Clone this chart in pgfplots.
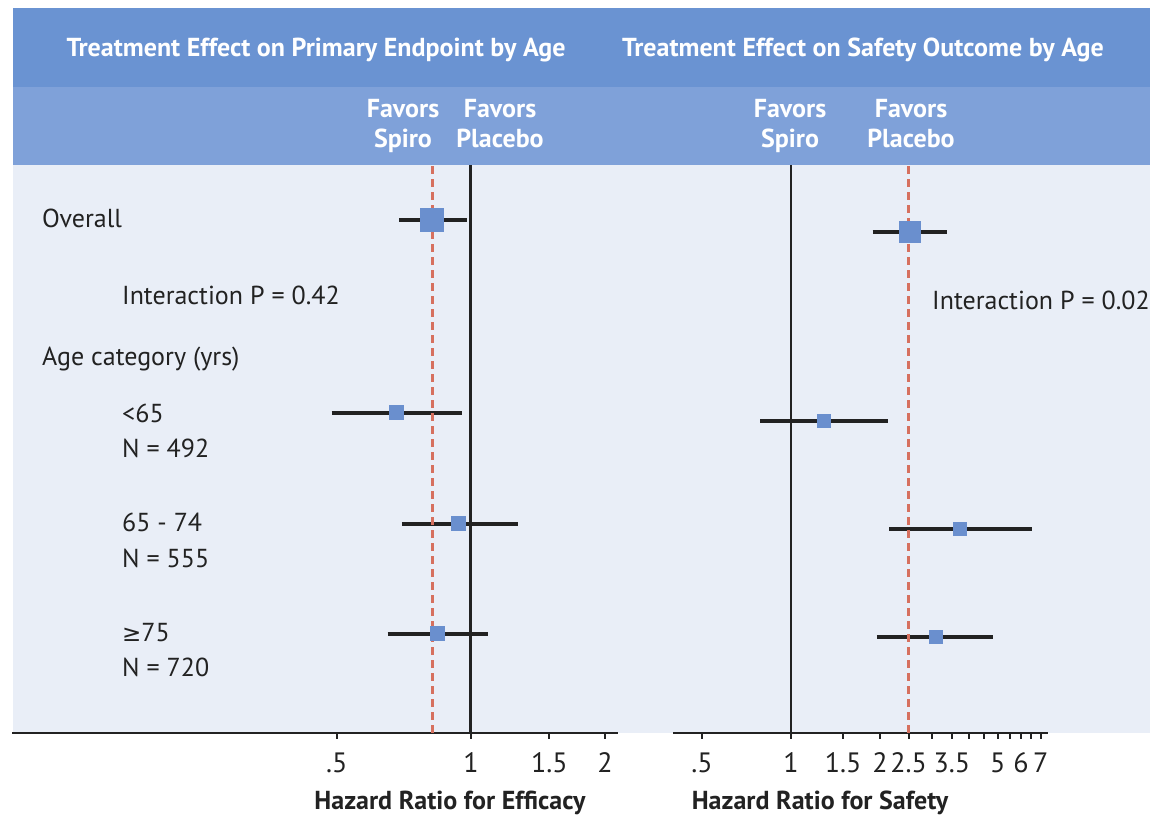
\documentclass[border=0pt]{standalone}
\usepackage{pgfplots}
\pgfplotsset{compat=1.18}
\usepackage{fontspec}
\setmainfont{PT Sans}
\newfontfamily\symfont{DejaVu Sans}

\definecolor{bandtop}{HTML}{6A93D2}
\definecolor{bandsub}{HTML}{7FA1D9}
\definecolor{panel}{HTML}{E9EEF7}
\definecolor{boxblue}{HTML}{6A8FCE}
\definecolor{refred}{HTML}{D6705F}
\definecolor{ink}{HTML}{222222}

\newcommand{\rowfont}{\fontsize{26}{30}\selectfont}
\newcommand{\headfont}{\fontsize{26}{30}\selectfont\bfseries}

\pgfplotsset{
  hrscale/.style={
    x coord trafo/.code={\pgfmathparse{ln(##1)}},
    x coord inv trafo/.code={\pgfmathparse{exp(##1)}},
  },
}
\tikzset{
  ci/.style={ink, line width=3.4pt},
  nullline/.style={ink, line width=2.8pt},
  refline/.style={refred, line width=2.8pt, dash pattern=on 8pt off 5pt},
}

\begin{document}
\begin{tikzpicture}
\begin{scope}[x=1pt, y=1pt]
% page and panel backgrounds
\fill[white] (0,0) rectangle (1150,818);
\fill[panel] (13,85) rectangle (1150,653);
\fill[bandsub] (13,653) rectangle (1150,731);
\fill[bandtop] (13,731) rectangle (1150,810);

% panel titles
\node[font=\fontsize{26}{30}\selectfont\bfseries, text=white, anchor=base] at (316,761) {Treatment Effect on Primary Endpoint by Age};
\node[font=\fontsize{26}{30}\selectfont\bfseries, text=white, anchor=base] at (863,761) {Treatment Effect on Safety Outcome by Age};

% direction headers
\node[font=\headfont, text=white, anchor=base] at (403,700) {Favors};
\node[font=\headfont, text=white, anchor=base] at (403,670) {Spiro};
\node[font=\headfont, text=white, anchor=base] at (500,700) {Favors};
\node[font=\headfont, text=white, anchor=base] at (500,670) {Placebo};
\node[font=\headfont, text=white, anchor=base] at (790,700) {Favors};
\node[font=\headfont, text=white, anchor=base] at (790,670) {Spiro};
\node[font=\headfont, text=white, anchor=base] at (911,700) {Favors};
\node[font=\headfont, text=white, anchor=base] at (911,670) {Placebo};

% row labels
\begin{scope}[every node/.style={font=\rowfont, text=ink, anchor=base west, inner sep=0pt}]
\node at (42,590) {Overall};
\node at (122,513) {Interaction P = 0.42};
\node at (42,452) {Age category (yrs)};
\node at (122,395) {<65};
\node at (122,360) {N = 492};
\node at (122,286) {65 - 74};
\node at (122,250) {N = 555};
\node at (122,176) {{\symfont\fontsize{23}{30}\selectfont ≥}75};
\node at (122,141) {N = 720};
\node at (932,508) {Interaction P = 0.02};
\end{scope}
\end{scope}

% efficacy: hazard ratio and 95% CI by age group
\begin{axis}[
  hrscale,
  at={(12pt,85pt)}, anchor=south west,
  scale only axis, clip=false,
  width=606pt, height=568pt,
  xmin=0.0931, xmax=2.139, ymin=85, ymax=653,
  axis x line=bottom, axis y line=none,
  x axis line style={-, line width=2.8pt, ink},
  ytick=\empty,
  tick align=outside, major tick length=6pt,
  every tick/.style={line width=2.2pt, ink},
  xtick={0.5,1,1.5,2}, xticklabels={.5,1,1.5,2},
  xticklabel style={font=\fontsize{28}{30}\selectfont, text=ink, anchor=north, yshift=-10pt},
  xlabel={Hazard Ratio for Efficacy},
  xlabel style={font=\fontsize{26}{30}\selectfont\bfseries, text=ink, anchor=base,
    at={(axis description cs:0.7228,0)}, yshift=-77pt},
]
\addplot[nullline] coordinates {(1,85) (1,653)};
% overall
\addplot[ci] coordinates {(0.69,598) (0.98,598)};
\addplot[only marks, mark=square*, mark size=11.5pt, mark options={fill=boxblue, draw=boxblue, line width=0pt}] coordinates {(0.82,598)};
% <65
\addplot[ci] coordinates {(0.487,405) (0.954,405)};
\addplot[only marks, mark=square*, mark size=7pt, mark options={fill=boxblue, draw=boxblue, line width=0pt}] coordinates {(0.68,405)};
% 65-74
\addplot[ci] coordinates {(0.70,294) (1.275,294)};
\addplot[only marks, mark=square*, mark size=7pt, mark options={fill=boxblue, draw=boxblue, line width=0pt}] coordinates {(0.94,294)};
% >=75
\addplot[ci] coordinates {(0.65,184) (1.09,184)};
\addplot[only marks, mark=square*, mark size=7pt, mark options={fill=boxblue, draw=boxblue, line width=0pt}] coordinates {(0.84,184)};
% overall estimate reference
\addplot[refline] coordinates {(0.82,85) (0.82,653)};
\end{axis}

% safety: hazard ratio and 95% CI by age group
\begin{axis}[
  hrscale,
  at={(673pt,85pt)}, anchor=south west,
  scale only axis, clip=false,
  width=375pt, height=568pt,
  xmin=0.399, xmax=7.40, ymin=85, ymax=653,
  axis x line=bottom, axis y line=none,
  x axis line style={-, line width=2.8pt, ink},
  ytick=\empty,
  tick align=outside, major tick length=6pt,
  every tick/.style={line width=2.2pt, ink},
  xtick={0.5,1,1.5,2,2.5,3,3.5,4,4.5,5,5.5,6,6.5,7},
  xticklabels={.5,1,1.5,2,2.5,{},3.5,{},{},5,{},6,{},7},
  xticklabel style={font=\fontsize{28}{30}\selectfont, text=ink, anchor=north, yshift=-10pt},
  xlabel={Hazard Ratio for Safety},
  xlabel style={font=\fontsize{26}{30}\selectfont\bfseries, text=ink, anchor=base,
    at={(axis description cs:0.392,0)}, yshift=-77pt},
]
\addplot[nullline] coordinates {(1,85) (1,653)};
% overall
\addplot[ci] coordinates {(1.89,586) (3.37,586)};
\addplot[only marks, mark=square*, mark size=10.7pt, mark options={fill=boxblue, draw=boxblue, line width=0pt}] coordinates {(2.53,586)};
% <65
\addplot[ci] coordinates {(0.786,397) (2.13,397)};
\addplot[only marks, mark=square*, mark size=6.5pt, mark options={fill=boxblue, draw=boxblue, line width=0pt}] coordinates {(1.29,397)};
% 65-74
\addplot[ci] coordinates {(2.15,289) (6.53,289)};
\addplot[only marks, mark=square*, mark size=6.5pt, mark options={fill=boxblue, draw=boxblue, line width=0pt}] coordinates {(3.73,289)};
% >=75
\addplot[ci] coordinates {(1.95,181) (4.82,181)};
\addplot[only marks, mark=square*, mark size=6.5pt, mark options={fill=boxblue, draw=boxblue, line width=0pt}] coordinates {(3.09,181)};
% overall estimate reference
\addplot[refline] coordinates {(2.5,85) (2.5,653)};
\end{axis}
\end{tikzpicture}
\end{document}
